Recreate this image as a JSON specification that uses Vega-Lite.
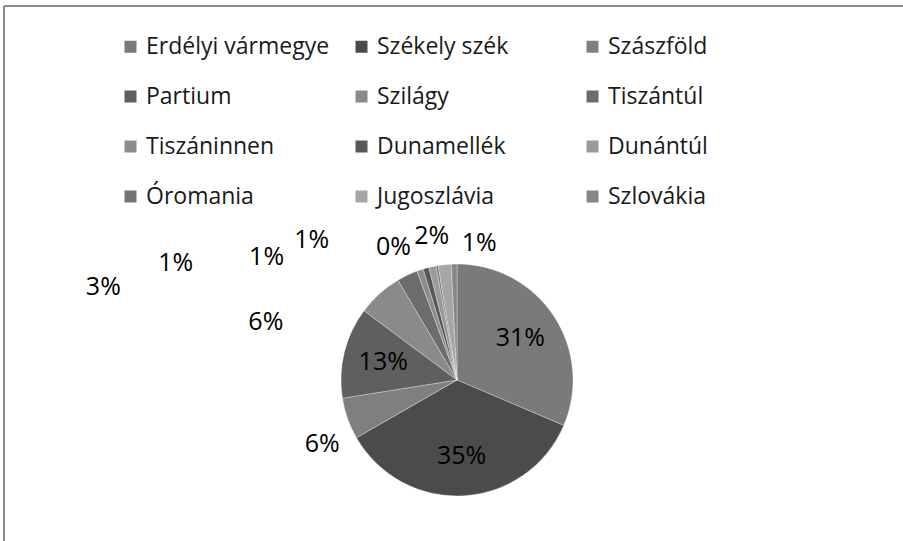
{
  "$schema": "https://vega.github.io/schema/vega-lite/v6.json",
  "autosize": {"type": "none"},
  "padding": {"left": 4, "top": 6, "right": -7, "bottom": -213},
  "width": 906,
  "height": 748,
  "background": "#ffffff",
  "config": {
    "view": {"stroke": null},
    "font": "Open Sans",
    "legend": {
      "orient": "none",
      "legendX": 115,
      "legendY": 29,
      "direction": "horizontal",
      "columns": 3,
      "gridAlign": "all",
      "columnPadding": 20,
      "rowPadding": 26,
      "padding": 0,
      "symbolType": "square",
      "symbolSize": 144,
      "symbolStrokeWidth": 0,
      "symbolOpacity": 1,
      "labelFont": "Open Sans",
      "labelFontSize": 23,
      "labelColor": "#1a1a1a",
      "labelOffset": 4,
      "labelLimit": 0,
      "title": null
    }
  },
  "datasets": {
    "frame": [{"name": "frame"}],
    "regions": [
      {"idx": 1, "region": "Erdélyi vármegye", "value": 31.4, "inner": "31%"},
      {"idx": 2, "region": "Székely szék", "value": 35.3, "inner": "35%"},
      {"idx": 3, "region": "Szászföld", "value": 5.8, "inner": ""},
      {"idx": 4, "region": "Partium", "value": 12.7, "inner": "13%"},
      {"idx": 5, "region": "Szilágy", "value": 6.3, "inner": ""},
      {"idx": 6, "region": "Tiszántúl", "value": 2.9, "inner": ""},
      {"idx": 7, "region": "Tiszáninnen", "value": 0.9, "inner": ""},
      {"idx": 8, "region": "Dunamellék", "value": 0.8, "inner": ""},
      {"idx": 9, "region": "Dunántúl", "value": 1.0, "inner": ""},
      {"idx": 10, "region": "Óromania", "value": 0.3, "inner": ""},
      {"idx": 11, "region": "Jugoszlávia", "value": 1.8, "inner": ""},
      {"idx": 12, "region": "Szlovákia", "value": 0.8, "inner": ""}
    ],
    "labels": [
      {"region": "Szászföld", "label": "6%", "at": 67.9, "dist": 1.288},
      {"region": "Szilágy", "label": "6%", "at": 79.65, "dist": 1.721},
      {"region": "Tiszántúl", "label": "3%", "at": 79.1, "dist": 3.153},
      {"region": "Tiszáninnen", "label": "1%", "at": 81.25, "dist": 2.625},
      {"region": "Dunamellék", "label": "1%", "at": 84.1, "dist": 1.952},
      {"region": "Dunántúl", "label": "1%", "at": 87.2, "dist": 1.74},
      {"region": "Óromania", "label": "0%", "at": 92.9, "dist": 1.269},
      {"region": "Jugoszlávia", "label": "2%", "at": 97.24, "dist": 1.262},
      {"region": "Szlovákia", "label": "1%", "at": 2.56, "dist": 1.194}
    ]
  },
  "layer": [
    {
      "data": {"name": "frame"},
      "mark": {"type": "rule", "stroke": "#8a8a8a", "strokeWidth": 2},
      "encoding": {"y": {"value": 0}, "x": {"value": 0}, "x2": {"value": 899}}
    },
    {
      "data": {"name": "frame"},
      "mark": {"type": "rule", "stroke": "#8a8a8a", "strokeWidth": 2},
      "encoding": {"x": {"value": 0}}
    },
    {
      "data": {"name": "regions"},
      "mark": {"type": "arc", "outerRadius": 116, "stroke": "#ffffff", "strokeWidth": 0.5, "strokeOpacity": 0.6},
      "encoding": {
        "theta": {"field": "value", "type": "quantitative", "stack": true, "scale": {"domain": [0, 100]}},
        "order": {"field": "idx", "type": "quantitative"},
        "color": {
          "field": "region",
          "type": "nominal",
          "sort": null,
          "scale": {
            "domain": ["Erdélyi vármegye", "Székely szék", "Szászföld", "Partium", "Szilágy", "Tiszántúl", "Tiszáninnen", "Dunamellék", "Dunántúl", "Óromania", "Jugoszlávia", "Szlovákia"],
            "range": ["#7a7a7a", "#4b4b4b", "#7f7f7f", "#5f5f5f", "#8a8a8a", "#6c6c6c", "#8d8d8d", "#575757", "#9a9a9a", "#747474", "#a6a6a6", "#868686"]
          },
          "legend": {}
        }
      }
    },
    {
      "data": {"name": "regions"},
      "mark": {"type": "text", "font": "Open Sans", "fontSize": 25, "color": "#000000", "radius": 76},
      "encoding": {
        "theta": {"field": "value", "type": "quantitative", "stack": true, "scale": {"domain": [0, 100]}},
        "order": {"field": "idx", "type": "quantitative"},
        "text": {"field": "inner", "type": "nominal"}
      }
    },
    {
      "data": {"name": "labels"},
      "mark": {"type": "text", "font": "Open Sans", "fontSize": 25, "color": "#000000"},
      "encoding": {
        "theta": {"field": "at", "type": "quantitative", "stack": null, "scale": {"domain": [0, 100]}},
        "radius": {"field": "dist", "type": "quantitative", "scale": {"type": "linear", "domain": [0, 1], "range": [0, 116], "zero": true}},
        "text": {"field": "label", "type": "nominal"}
      }
    }
  ]
}
